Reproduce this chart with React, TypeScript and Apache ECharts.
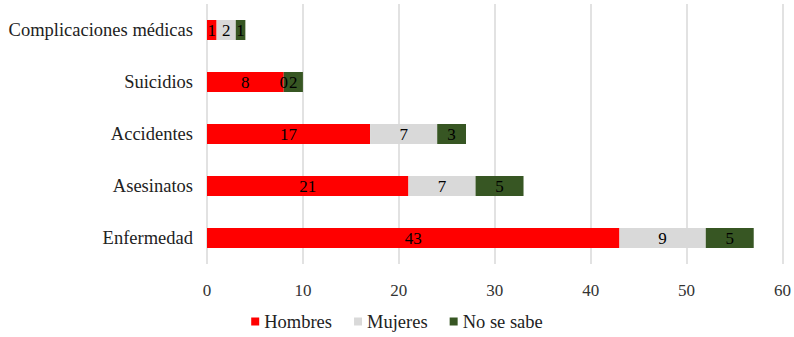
import React, { useEffect, useRef } from "react";
import * as echarts from "echarts";

const categories = ["Complicaciones médicas", "Suicidios", "Accidentes", "Asesinatos", "Enfermedad"];
const hombres = [1, 8, 17, 21, 43];
const mujeres = [2, 0, 7, 7, 9];
const noSeSabe = [1, 2, 3, 5, 5];
const xTicks = { min: 0, max: 60, interval: 10 };

const FONT = "'Liberation Serif', 'Times New Roman', serif";

export default function App() {
  const ref = useRef<HTMLDivElement>(null);
  useEffect(() => {
    document.body.style.margin = "0";
    if (!ref.current) return;
    const chart = echarts.init(ref.current, null, { renderer: "svg" });
    const label = {
      show: true,
      position: "inside" as const,
      color: "#000",
      fontFamily: FONT,
      fontSize: 17,
    };
    const mk = (name: string, data: number[], color: string) => ({
      name,
      type: "bar" as const,
      stack: "total",
      data,
      barWidth: 20,
      itemStyle: { color },
      label,
      emphasis: { disabled: true },
    });
    chart.setOption({
      animation: false,
      textStyle: { fontFamily: FONT },
      grid: { left: 207, right: 11, top: 4, bottom: 73, containLabel: false },
      xAxis: {
        type: "value",
        min: xTicks.min,
        max: xTicks.max,
        interval: xTicks.interval,
        axisLine: { show: false },
        axisTick: { show: false },
        splitLine: { show: true, lineStyle: { color: "#d9d9d9", width: 1.5 } },
        axisLabel: { color: "#333", fontFamily: FONT, fontSize: 17, margin: 18 },
      },
      yAxis: {
        type: "category",
        data: categories,
        inverse: true,
        axisLine: { show: false },
        axisTick: { show: false },
        axisLabel: { color: "#222", fontFamily: FONT, fontSize: 18.5, margin: 14 },
      },
      legend: {
        bottom: 1,
        left: "center",
        itemWidth: 8,
        itemHeight: 8,
        itemGap: 22,
        icon: "rect",
        textStyle: { color: "#222", fontFamily: FONT, fontSize: 18.5 },
        data: ["Hombres", "Mujeres", "No se sabe"],
      },
      series: [
        mk("Hombres", hombres, "#ff0000"),
        mk("Mujeres", mujeres, "#d9d9d9"),
        mk("No se sabe", noSeSabe, "#375623"),
      ],
    });
    return () => chart.dispose();
  }, []);
  return <div ref={ref} style={{ width: 794, height: 337 }} />;
}
